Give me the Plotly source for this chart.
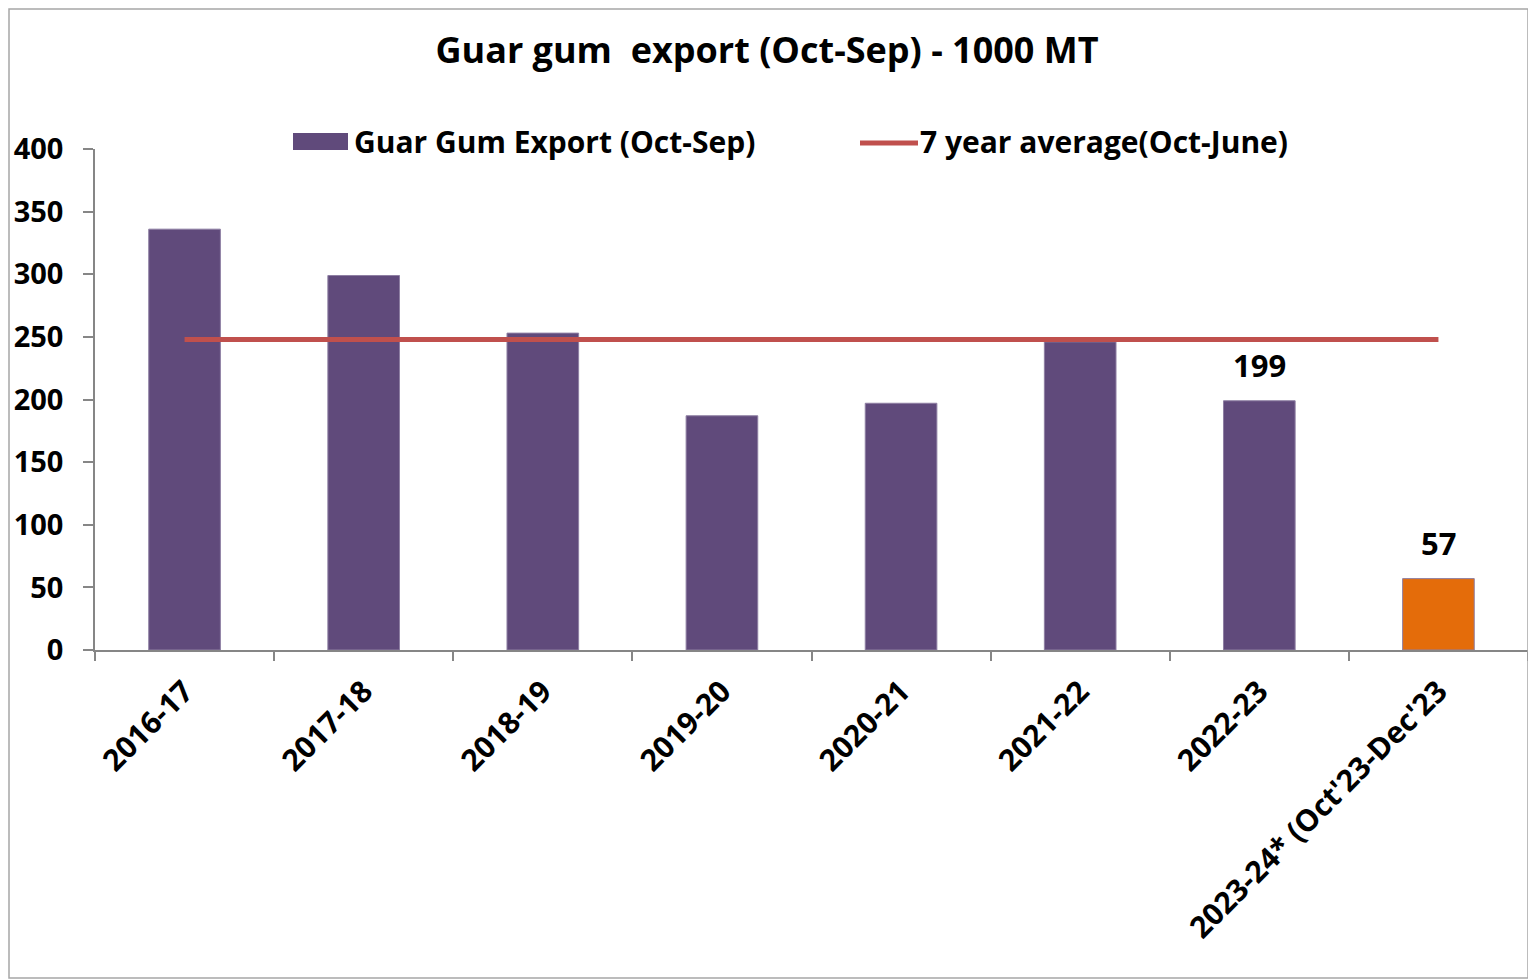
import plotly.graph_objects as go

categories = ["2016-17", "2017-18", "2018-19", "2019-20", "2020-21",
              "2021-22", "2022-23", "2023-24* (Oct'23-Dec'23"]
export_values = [336, 299, 253, 187, 197, 246, 199, 57]
average_values = [248, 248, 248, 248, 248, 248, 248, 248]
bar_colors = ["#604A7B", "#604A7B", "#604A7B", "#604A7B", "#604A7B",
              "#604A7B", "#604A7B", "#E46C0A"]
labelled = ["2022-23", "2023-24* (Oct'23-Dec'23"]
label_values = [199, 57]
y_ticks = [0, 50, 100, 150, 200, 250, 300, 350, 400]

FONT = "Open Sans"
OFF = 8  # page offset of the figure inside the browser window
W, H = 1536 - OFF, 980 - OFF
L, T = 95 - OFF, 149 - OFF
R = W - (1528 - OFF)
B = H - (650 - OFF)
PW, PH = W - L - R, H - T - B


def px_x(p):
    # reference window pixel -> paper x
    return (p - OFF - L) / PW


def px_y(p):
    # reference window pixel -> paper y
    return (H - B - (p - OFF)) / PH


fig = go.Figure()
fig.add_trace(go.Bar(
    x=categories, y=export_values, name="Guar Gum Export (Oct-Sep)",
    marker=dict(color=bar_colors, line=dict(width=1, color="#8E7FA3")),
    width=0.4, showlegend=False,
))
fig.add_trace(go.Scatter(
    x=categories, y=average_values, name="7 year average(Oct-June)",
    mode="lines", line=dict(color="#C0504D", width=5), showlegend=False,
))

for c, v in zip(labelled, label_values):
    fig.add_annotation(x=c, y=v, text=str(v), showarrow=False, yanchor="bottom",
                       yshift=13, font=dict(family=FONT, size=31, color="black", weight="bold"))

# legend (drawn to match reference sizes)
fig.add_shape(type="rect", xref="paper", yref="paper",
              x0=px_x(293), x1=px_x(348), y0=px_y(150), y1=px_y(133),
              fillcolor="#604A7B", line=dict(width=0))
fig.add_annotation(xref="paper", yref="paper", x=px_x(352), y=px_y(141),
                   text="Guar Gum Export (Oct-Sep)", showarrow=False,
                   xanchor="left", yanchor="middle",
                   font=dict(family=FONT, size=30, color="black", weight="bold"))
fig.add_shape(type="line", xref="paper", yref="paper",
              x0=px_x(860), x1=px_x(918), y0=px_y(143), y1=px_y(143),
              line=dict(color="#C0504D", width=5))
fig.add_annotation(xref="paper", yref="paper", x=px_x(918), y=px_y(141),
                   text="7 year average(Oct-June)", showarrow=False,
                   xanchor="left", yanchor="middle",
                   font=dict(family=FONT, size=30, color="black", weight="bold"))

# outer chart border
fig.add_shape(type="rect", xref="paper", yref="paper",
              x0=px_x(OFF + 1), x1=px_x(1528), y0=px_y(978), y1=px_y(OFF + 1),
              line=dict(color="#A6A6A6", width=1.5), fillcolor="rgba(0,0,0,0)")

fig.update_layout(
    width=W, height=H,
    margin=dict(l=L, r=R, t=T, b=B, autoexpand=False),
    paper_bgcolor="white", plot_bgcolor="white",
    title=dict(text="Guar gum  export (Oct-Sep) - 1000 MT", x=(767 - OFF) / W, xanchor="center",
               y=1 - (50 - OFF) / H, yanchor="middle",
               font=dict(family=FONT, size=36, color="black", weight="bold")),
    font=dict(family=FONT, color="black"),
)
fig.update_xaxes(
    type="category", showline=True, linecolor="#868686", linewidth=1.5,
    ticks="outside", tickson="boundaries", ticklen=9, tickcolor="#868686", tickwidth=1.5,
    tickangle=-45, showgrid=False, ticklabelstandoff=10,
    tickfont=dict(family=FONT, size=30, color="black", weight="bold"),
)
fig.update_yaxes(
    range=[0, 400], tickvals=y_ticks, showline=True, linecolor="#868686", linewidth=1.5,
    ticks="outside", ticklen=10, tickcolor="#868686", tickwidth=1.5,
    showgrid=False, zeroline=False, ticklabelstandoff=14,
    tickfont=dict(family=FONT, size=29, color="black", weight="bold"),
)

fig.write_html("out.html")
